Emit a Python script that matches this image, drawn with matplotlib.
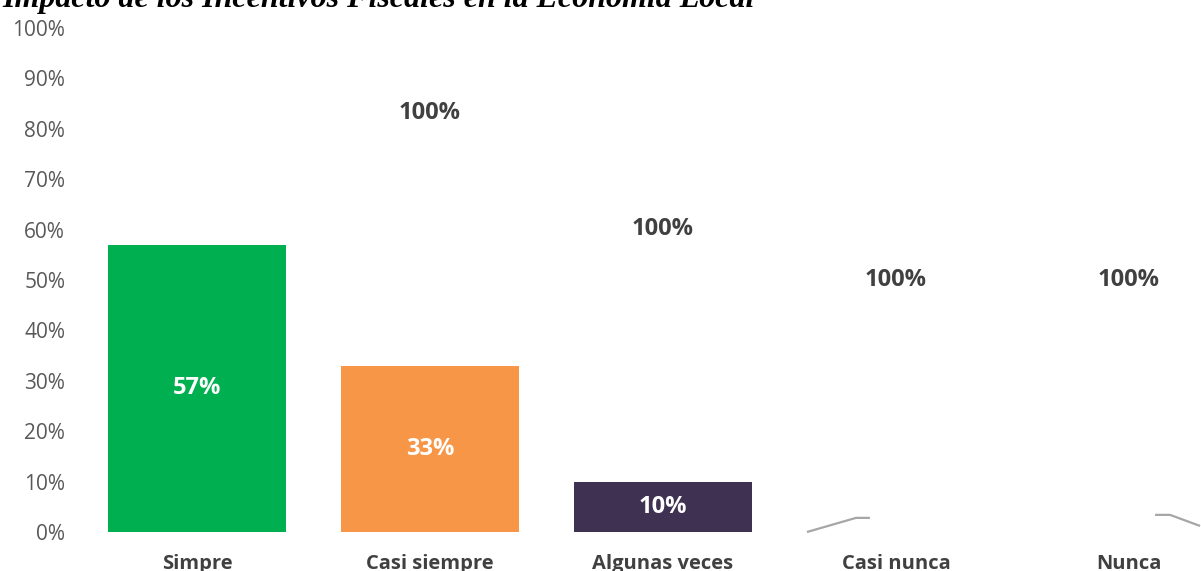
import matplotlib
matplotlib.use("Agg")
import matplotlib.pyplot as plt
from matplotlib.ticker import PercentFormatter

# ---- data ----
categories = ["Simpre", "Casi siempre", "Algunas veces", "Casi nunca", "Nunca"]
values = [0.57, 0.33, 0.10, 0.0, 0.0]
bar_colors = ["#00B050", "#F79646", "#3F3151", "#A5A5A5", "#A5A5A5"]
bar_labels = ["57%", "33%", "10%", "", ""]
top_labels = ["100%", "100%", "100%", "100%"]
top_label_x = [1, 2, 3, 4]
top_label_y = [0.831, 0.601, 0.50, 0.50]
leader_casi_nunca_x = [2.618, 2.828, 2.888]
leader_casi_nunca_y = [0.0, 0.028, 0.028]
leader_nunca_x = [4.112, 4.176, 4.305]
leader_nunca_y = [0.034, 0.034, 0.012]
yticks = [0.0, 0.1, 0.2, 0.3, 0.4, 0.5, 0.6, 0.7, 0.8, 0.9, 1.0]
title = "Impacto de los Incentivos Fiscales en la Economía Local"

W, H = 1201, 571
fig = plt.figure(figsize=(W / 100, H / 100), dpi=100)
ax = fig.add_axes([80.5 / W, (H - 532) / H, 1165 / W, 504 / H])

font = "Open Sans"
x = list(range(len(categories)))
bars = ax.bar(x, values, width=0.768, color=bar_colors)

for xi, v, lab in zip(x, values, bar_labels):
    if lab:
        ax.text(xi, v / 2, lab, ha="center", va="center", color="white",
                fontsize=17, fontweight="bold", family=font)

for xi, yi, lab in zip(top_label_x, top_label_y, top_labels):
    ax.text(xi, yi, lab, ha="center", va="center", color="#404040",
            fontsize=17, fontweight="bold", family=font)

ax.plot(leader_casi_nunca_x, leader_casi_nunca_y, color="#A6A6A6", lw=1.6,
        clip_on=False, solid_capstyle="butt")
ax.plot(leader_nunca_x, leader_nunca_y, color="#A6A6A6", lw=1.6,
        clip_on=False, solid_capstyle="butt")

ax.set_xlim(-0.5, len(categories) - 0.5)
ax.set_ylim(0, 1)
ax.set_yticks(yticks)
ax.yaxis.set_major_formatter(PercentFormatter(1.0, decimals=0))
ax.set_xticks(x)
ax.set_xticklabels(categories)
for s in ax.spines.values():
    s.set_visible(False)
ax.tick_params(axis="both", length=0)
ax.tick_params(axis="y", pad=11, labelcolor="#595959", labelsize=15)
ax.tick_params(axis="x", pad=16, labelcolor="#404040", labelsize=14.5)
for t in ax.get_yticklabels():
    t.set_family(font)
for t in ax.get_xticklabels():
    t.set_family(font)
    t.set_fontweight("bold")

fig.text(2 / W, 1 - 7.5 / H, title, ha="left", va="baseline",
         family="Liberation Serif", fontsize=23, fontweight="bold",
         style="italic", color="black")

fig.savefig("out.png", dpi=100)
